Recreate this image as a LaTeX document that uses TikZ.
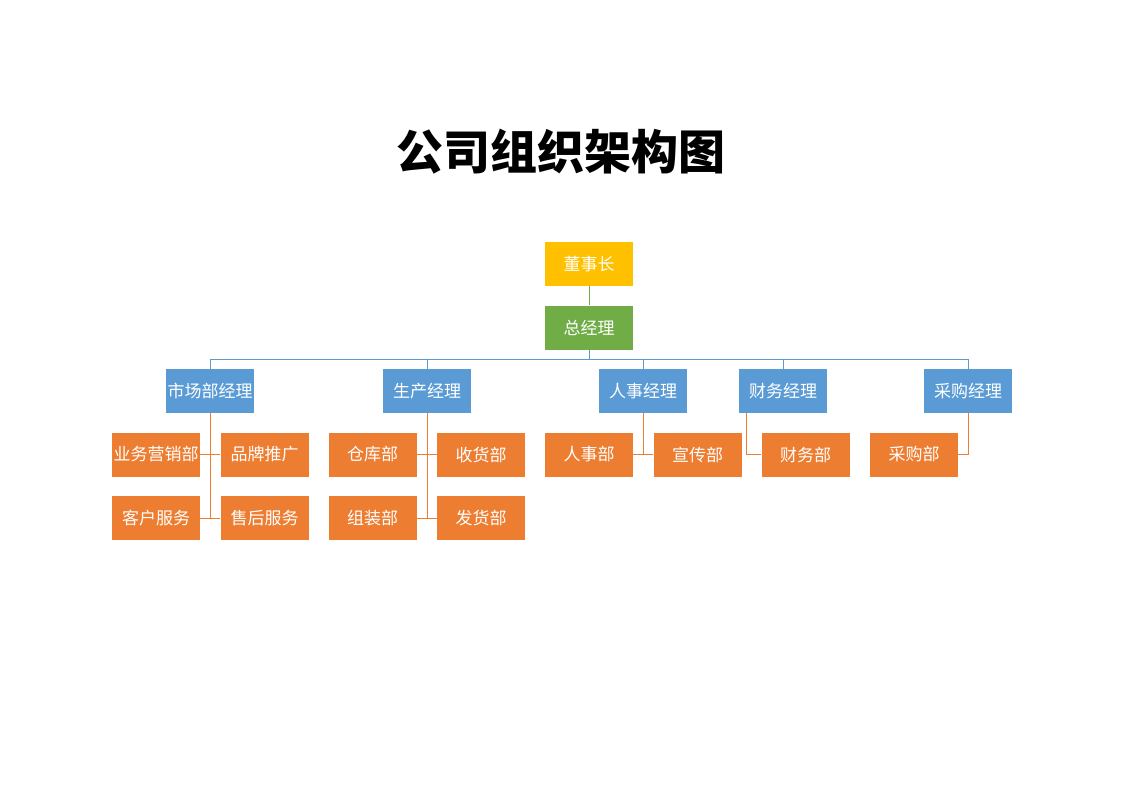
\documentclass[tikz,border=0pt]{standalone}
\usepackage{fontspec}
\newfontfamily\cjk{Noto Sans CJK SC}
\usetikzlibrary{calc}
\definecolor{cyellow}{HTML}{FFC000}
\definecolor{cgreen}{HTML}{70AD47}
\definecolor{cblue}{HTML}{5B9BD5}
\definecolor{corange}{HTML}{ED7D31}
\tikzset{
  box/.style={rectangle, inner sep=0pt, minimum width=88pt, minimum height=44pt, text=white, font=\cjk\fontsize{17}{17}\selectfont},
  ybox/.style={box, fill=cyellow},
  gbox/.style={box, fill=cgreen},
  bbox/.style={box, fill=cblue},
  obox/.style={box, fill=corange},
  gline/.style={draw=cgreen, line width=1pt},
  bline/.style={draw=cblue, line width=1pt},
  oline/.style={draw=corange, line width=1pt},
}
\begin{document}
\begin{tikzpicture}[x=1pt, y=-1pt]
\path[use as bounding box, fill=white] (0,0) rectangle (1122,793);
\node[font=\cjk\bfseries\fontsize{47}{47}\selectfont] (title) at (561,152) {公司组织架构图};
% top
\node[ybox] (dsz) at (589,264) {董事长};
\node[gbox] (zjl) at (589,327.5) {总经理};
% managers
\node[bbox] (m1) at (210,391) {市场部经理};
\node[bbox] (m2) at (427,391) {生产经理};
\node[bbox] (m3) at (643,391) {人事经理};
\node[bbox] (m4) at (783,391) {财务经理};
\node[bbox] (m5) at (968,391) {采购经理};
% departments
\node[obox] (a1) at (156,454.5) {业务营销部};
\node[obox] (a2) at (264.5,454.5) {品牌推广};
\node[obox] (a3) at (156,518) {客户服务};
\node[obox] (a4) at (264.5,518) {售后服务};
\node[obox] (b1) at (372.5,454.5) {仓库部};
\node[obox] (b2) at (481,454.5) {收货部};
\node[obox] (b3) at (372.5,518) {组装部};
\node[obox] (b4) at (481,518) {发货部};
\node[obox] (c1) at (589,454.5) {人事部};
\node[obox] (c2) at (697.5,454.5) {宣传部};
\node[obox] (d1) at (805.5,454.5) {财务部};
\node[obox] (e1) at (914,454.5) {采购部};
% connectors
\draw[gline] (dsz.south) -- (zjl.north);
\coordinate (busL) at (210,359);
\coordinate (busR) at (968,359);
\draw[bline] (busL) -- (busR);
\draw[bline] (zjl.south) -- (zjl.south |- busL);
\foreach \m in {m1,m2,m3,m4,m5} {\draw[bline] (\m.north) -- (\m.north |- busL);}
% market
\draw[oline] (m1.south) -- (m1.south |- a3.east);
\draw[oline] (a1.east) -- (a2.west);
\draw[oline] (a3.east) -- (a4.west);
% production
\draw[oline] (m2.south) -- (m2.south |- b3.east);
\draw[oline] (b1.east) -- (b2.west);
\draw[oline] (b3.east) -- (b4.west);
% hr
\draw[oline] (m3.south) -- (m3.south |- c1.east);
\draw[oline] (c1.east) -- (c2.west);
% finance
\coordinate (m4s) at ($(m4.south west)+(8,0)$);
\draw[oline] (m4s) |- (d1.west);
% purchase
\draw[oline] (m5.south) |- (e1.east);
\end{tikzpicture}
\end{document}
